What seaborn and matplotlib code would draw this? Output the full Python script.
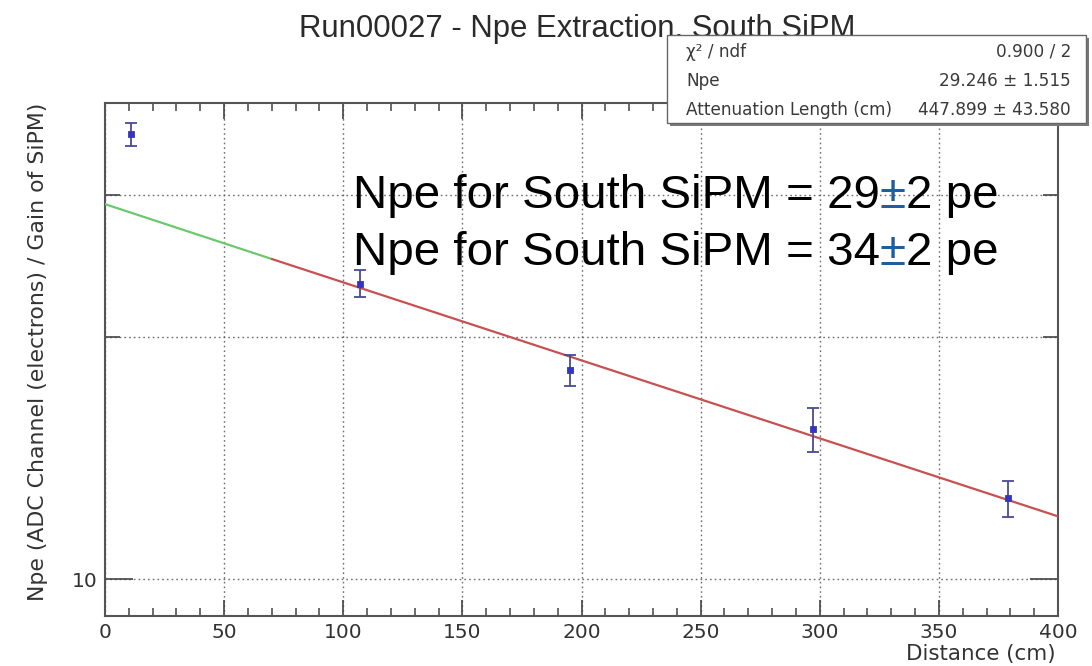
import numpy as np
import pandas as pd
import seaborn as sns
import matplotlib
matplotlib.use("Agg")
import matplotlib.pyplot as plt
from matplotlib.ticker import FixedLocator, MultipleLocator, NullFormatter, FuncFormatter
from matplotlib.patches import Rectangle

# ---------------- data ----------------
distance = [11, 107, 195, 297, 379]          # cm
npe = [35.7, 23.3, 18.2, 15.35, 12.6]         # Npe
npe_err = [1.2, 0.9, 0.8, 0.95, 0.65]

# fit line end points (exponential -> straight on log axis)
extrap_x = [0, 70]
extrap_y = [29.25, 25.0]
fit_x = [70, 400]
fit_y = [25.0, 11.97]

x_ticks = [0, 50, 100, 150, 200, 250, 300, 350, 400]
y_major_ticks = [10]
y_minor_ticks = [20, 30]

title = "Run00027 - Npe Extraction, South SiPM"
x_label = "Distance (cm)"
y_label = "Npe (ADC Channel (electrons) / Gain of SiPM)"
stats_labels = ["\u03c7\u00b2 / ndf", "Npe", "Attenuation Length (cm)"]
stats_values = ["0.900 / 2", "29.246 \u00b1 1.515", "447.899 \u00b1 43.580"]
note_lines = [("Npe for South SiPM = 29", "\u00b1", "2 pe"),
              ("Npe for South SiPM = 34", "\u00b1", "2 pe")]

# ---------------- style ----------------
sns.set_style("white")
plt.rcParams["font.family"] = ["DejaVu Sans"]

W, H = 1092, 666
fig = plt.figure(figsize=(W / 100, H / 100), dpi=100)
fig.patch.set_facecolor("white")


def fx(px):
    return px / W


def fy(py):
    return 1 - py / H


ax = fig.add_axes([fx(105), fy(616), (1058 - 105) / W, (616 - 102.7) / H])
ax.set_yscale("log")

sns.lineplot(x=extrap_x, y=extrap_y, ax=ax, color="#6cc86c", lw=1.6, zorder=3)
sns.lineplot(x=fit_x, y=fit_y, ax=ax, color="#c85050", lw=1.6, zorder=3)
ax.errorbar(distance, npe, yerr=npe_err, fmt="none", ecolor="#4a4a96",
            elinewidth=1.3, capsize=4, capthick=1.3, zorder=4)
sns.scatterplot(x=distance, y=npe, ax=ax, marker="s", s=24, color="#3434cc",
                edgecolor="#3a3a9a", linewidth=0.6, zorder=5)

ax.set_xlim(0, 400)
ax.set_ylim(9.0, 39.1)

ax.xaxis.set_major_locator(FixedLocator(x_ticks))
ax.xaxis.set_minor_locator(MultipleLocator(10))
ax.yaxis.set_major_locator(FixedLocator(y_major_ticks))
ax.yaxis.set_minor_locator(FixedLocator(y_minor_ticks))
ax.yaxis.set_major_formatter(FuncFormatter(lambda v, p: f"{v:g}"))
ax.yaxis.set_minor_formatter(NullFormatter())

tick_col = "#444444"
ax.tick_params(axis="x", which="major", direction="in", length=11.5, width=1.2,
               top=True, bottom=True, labelsize=14.5, pad=5, color=tick_col,
               labelcolor="#333333")
ax.tick_params(axis="x", which="minor", direction="in", length=5.8, width=1.1,
               top=True, bottom=True, color=tick_col)
ax.tick_params(axis="y", which="major", direction="in", length=20, width=1.2,
               left=True, right=True, labelsize=14.5, pad=5, color=tick_col,
               labelcolor="#333333")
ax.tick_params(axis="y", which="minor", direction="in", length=10.8, width=1.2,
               left=True, right=True, color=tick_col)

grid_kw = dict(color="#555555", linestyle=(0, (1.2, 2.2)), linewidth=1.0, alpha=0.85)
ax.xaxis.grid(True, which="major", **grid_kw)
ax.yaxis.grid(True, which="both", **grid_kw)
ax.set_axisbelow(True)

for s in ax.spines.values():
    s.set_color("#555555")
    s.set_linewidth(1.5)

ax.set_xlabel("")
ax.set_ylabel("")

# axis titles
fig.text(fx(1056), fy(654), x_label, ha="right", va="center", fontsize=15.4,
         color="#333333")
fig.text(fx(38), fy(352), y_label, ha="center", va="center", rotation=90,
         fontsize=15.8, color="#333333")

# title (partly covered by the stats box, as in the reference)
fig.text(fx(577), fy(37.5), title, ha="center", va="baseline",
         fontsize=22.4, family=["Liberation Sans", "DejaVu Sans"],
         color="#2a2a2a", zorder=1)

# stats box with shadow
box_l, box_t, box_r, box_b = 667, 35, 1086, 123
fig.patches.append(Rectangle((fx(box_l + 3), fy(box_b + 3)), (box_r - box_l) / W,
                             (box_b - box_t) / H, transform=fig.transFigure,
                             facecolor="#7a7a7a", edgecolor="none", zorder=2))
fig.patches.append(Rectangle((fx(box_l), fy(box_b)), (box_r - box_l) / W,
                             (box_b - box_t) / H, transform=fig.transFigure,
                             facecolor="white", edgecolor="#666666", lw=1.0,
                             zorder=2.1))
for lab, val, base in zip(stats_labels, stats_values, [57, 86, 115]):
    fig.text(fx(686), fy(base), lab, ha="left", va="baseline", fontsize=12.2,
             color="#3a3a3a", zorder=3)
    fig.text(fx(1071), fy(base), val, ha="right", va="baseline", fontsize=12.2,
             color="#3a3a3a", zorder=3)

# overlay annotation lines (blue plus-minus sign between black parts)
for (a, pm, b), base in zip(note_lines, [208, 265]):
    t1 = fig.text(fx(352.7), fy(base), a, ha="left", va="baseline",
                  fontsize=34.2, family=["Liberation Sans", "DejaVu Sans"],
                  color="black", zorder=4)
    ann = ax.annotate(pm, xy=(1, 0), xycoords=t1, ha="left", va="bottom",
                      fontsize=34.2, family=["Liberation Sans", "DejaVu Sans"],
                      color="#1d5fa0", annotation_clip=False, zorder=6)
    ax.annotate(b, xy=(1, 0), xycoords=ann, ha="left", va="bottom",
                fontsize=34.2, family=["Liberation Sans", "DejaVu Sans"],
                color="black", annotation_clip=False, zorder=6)

fig.savefig("out.png", dpi=100, facecolor="white")
